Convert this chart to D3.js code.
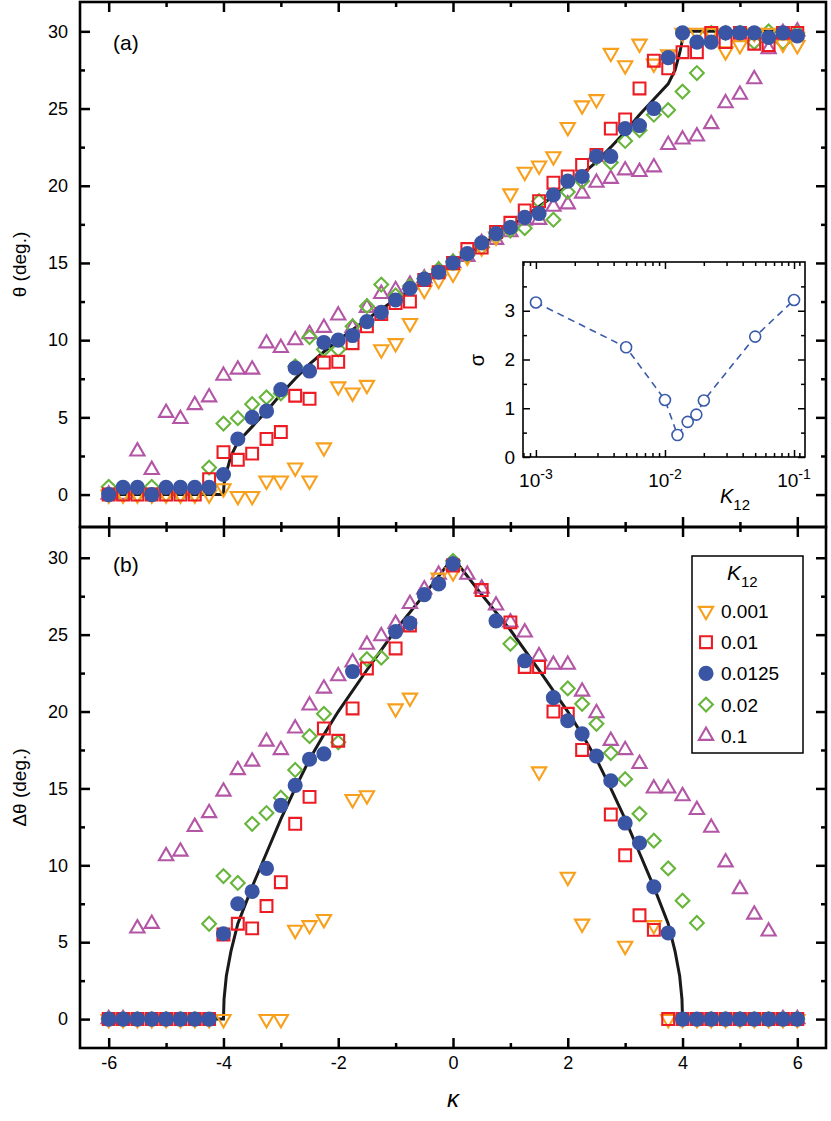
<!DOCTYPE html>
<html>
<head>
<meta charset="utf-8">
<script src="https://cdn.jsdelivr.net/npm/d3@7"></script>
<style>
body{margin:0;background:#fff}
text{font-family:"Liberation Sans",Arial,sans-serif;fill:#000}
</style>
</head>
<body>
<script>
// kappa grid shared by all series
const kappa = [-6,-5.75,-5.5,-5.25,-5,-4.75,-4.5,-4.25,
  -4,-3.75,-3.5,-3.25,-3,-2.75,-2.5,-2.25,
  -2,-1.75,-1.5,-1.25,-1,-0.75,-0.5,-0.25,
  0,0.25,0.5,0.75,1,1.25,1.5,1.75,
  2,2.25,2.5,2.75,3,3.25,3.5,3.75,
  4,4.25,4.5,4.75,5,5.25,5.5,5.75,
  6];

// panel (a): theta (deg.)
const thetaOrange = [0,0,0,0,0,0,0,0,
  0.4,-0.1,-0.1,0.9,0.9,1.75,0.9,3.05,
  7.0,6.6,7.1,9.4,9.8,11.1,13.25,13.9,
  14.3,15.4,16.0,16.7,19.5,20.9,21.3,21.9,
  23.8,25.2,25.6,28.6,27.8,29.2,27.9,28.5,
  29.9,29.9,29.9,28.7,29.1,29.9,29.9,29.2,
  29.1];
const thetaRed = [0,0,0,0,0,0,0,1.0,
  2.75,2.25,2.65,3.6,4.05,6.4,6.2,8.55,
  8.6,9.8,10.9,11.7,12.4,12.5,13.9,14.4,
  15.0,15.9,16.0,17.0,17.6,18.4,19.0,20.2,
  20.6,21.35,22.0,23.7,24.3,26.3,28.1,27.6,
  28.65,28.65,29.9,29.3,29.9,29.2,29.1,29.9,
  29.9];
const thetaBlue = [0,0.47,0.47,0,0.47,0.47,0.47,0.47,
  1.3,3.6,5.0,5.4,6.8,8.2,8.0,9.85,
  10.0,10.3,11.2,11.8,12.6,13.35,13.95,14.4,
  15.0,15.6,16.3,16.9,17.3,17.95,18.2,19.4,
  20.3,20.6,21.9,21.9,23.7,23.9,25.0,28.3,
  29.9,29.3,29.3,29.9,29.9,29.9,29.6,29.9,
  29.7];
const thetaGreen = [0.5,0,0,0.5,0,0,0,1.75,
  4.6,4.95,5.85,6.3,6.55,8.3,10.2,9.4,
  9.4,10.9,12.2,13.6,12.9,13.5,14.0,14.6,
  15.1,15.5,16.0,16.7,17.1,17.25,19.0,17.8,
  19.6,20.3,21.8,21.5,22.9,23.6,24.6,24.9,
  26.1,27.3,29.9,29.9,29.9,29.3,30.0,29.3,
  29.9];
const thetaMagenta = [0,0,2.8,1.6,5.3,4.9,5.8,6.3,
  7.7,8.1,8.1,9.8,9.5,10.0,10.4,10.8,
  11.6,10.8,12.1,13.0,13.25,13.6,14.0,14.5,
  15.0,15.4,16.3,16.5,17.0,17.75,17.8,18.65,
  18.8,19.5,20.2,20.45,21.0,20.9,21.2,22.65,
  23.0,23.2,24.0,25.35,25.9,26.9,28.85,29.9,
  30.0];

// panel (b): delta theta (deg.), null = no point
const dOrange = [0,0,0,0,0,0,0,0,
  0,null,null,0,0,5.8,6.1,6.5,
  null,14.3,14.55,null,20.2,20.9,null,28.7,
  29.05,null,null,null,null,null,16.1,null,
  9.25,6.2,null,null,4.76,null,6.1,0,
  0,0,0,0,0,0,0,0,
  0];
const dRed = [0,0,0,0,0,0,0,0,
  5.5,6.2,5.9,7.35,8.9,12.7,14.45,18.9,
  18.1,20.2,22.8,null,24.1,25.6,null,null,
  29.5,null,27.9,null,25.8,22.9,22.9,20.0,
  19.85,17.5,null,13.3,10.65,6.75,5.8,0,
  0,0,0,0,0,0,0,0,
  0];
const dBlue = [0,0,0,0,0,0,0,0,
  5.55,7.5,8.3,9.8,13.9,15.2,16.9,17.25,
  null,22.6,null,null,25.2,25.75,27.6,28.3,
  29.6,null,null,25.9,null,23.3,null,20.9,
  19.4,18.55,17.1,15.5,12.75,11.45,8.6,5.6,
  0,0,0,0,0,0,0,0,
  0];
const dGreen = [0,0,0,0,0,0,0,6.2,
  9.3,8.85,12.7,13.4,14.4,16.2,18.4,19.85,
  18.0,null,23.4,23.5,null,null,null,null,
  29.8,null,null,null,24.4,null,null,null,
  21.5,20.5,19.2,17.3,15.6,13.35,11.6,9.8,
  7.7,6.25,0,0,0,0,0,0,
  0];
const dMagenta = [0,0,5.9,6.2,10.6,10.9,12.5,13.4,
  14.8,16.2,16.75,18.05,17.5,18.9,20.4,21.5,
  22.3,23.2,24.35,24.9,25.7,27.0,27.95,28.9,
  29.5,28.9,28.0,26.9,25.8,25.15,23.6,23.05,
  23.05,21.3,19.9,18.1,17.5,16.6,15.0,15.0,
  14.5,13.6,12.45,10.2,8.45,6.8,5.7,0,
  0];

// theory curves
const curveK = [-6,-4,-3.99,-3.95,-3.87,-3.75,-3.5,-3.25,-3,-2.75,-2.5,-2.25,-2,-1.5,-1,-0.5,
  0,0.5,1,1.5,2,2.25,2.5,2.75,3,3.25,3.5,3.75,3.87,3.95,3.99,4,6];
const curveTheta = [0,0,0.7,1.4,2.5,3.4,4.4,5.4,6.5,7.5,8.45,9.25,10.0,11.35,12.65,13.8,
  15,16.2,17.35,18.65,20.0,20.75,21.55,22.5,23.5,24.6,25.6,26.6,27.5,28.6,29.3,30,30];
const curveDelta = [0,0,1.3,2.8,4.4,6.2,8.6,10.8,13.0,15.0,16.9,18.5,20.0,22.7,25.3,27.6,
  30,27.6,25.3,22.7,20.0,18.5,16.9,15.0,13.0,10.8,8.6,6.2,4.4,2.8,1.3,0,0];

// inset: sigma vs K12
const kInset = [0.001,0.005,0.01,0.0125,0.015,0.0175,0.02,0.05,0.1];
const sigma = [3.17,2.25,1.17,0.45,0.72,0.87,1.16,2.47,3.22];

const legendLabels = ['0.001','0.01','0.0125','0.02','0.1'];
const colors = ['#F8A01C','#EC1C24','#3A55A4','#67B53B','#B356A6'];
const shapes = ['down','square','circle','diamond','up'];
const panelA = [thetaOrange,thetaRed,thetaBlue,thetaGreen,thetaMagenta];
const panelB = [dOrange,dRed,dBlue,dGreen,dMagenta];
const drawOrder = [4,3,0,1,2];

const W = 831, H = 1121;
const leftX = 80, rightX = 826, topY = 2, midY = 527, bottomY = 1048;

const svg = d3.select('body').append('svg').attr('width',W).attr('height',H);

const x = d3.scaleLinear().domain([-6.5,6.5]).range([leftX,rightX]);
const yA = d3.scaleLinear().domain([-2.1,31.9]).range([midY,topY]);
const yB = d3.scaleLinear().domain([-1.88,32]).range([bottomY,midY]);

function symbolPath(shape){
  if(shape==='circle') return d3.symbol().type(d3.symbolCircle).size(180)();
  if(shape==='square') return d3.symbol().type(d3.symbolSquare).size(140)();
  if(shape==='diamond') return d3.symbol().type(d3.symbolSquare).size(95)();
  return d3.symbol().type(d3.symbolTriangle).size(88)();
}
function rot(shape){
  if(shape==='down') return ' rotate(180)';
  if(shape==='diamond') return ' rotate(45)';
  return '';
}
function drawMarker(g, px, py, s){
  const sh = shapes[s];
  g.append('path')
   .attr('d', symbolPath(sh))
   .attr('transform', `translate(${px},${py})${rot(sh)}`)
   .attr('fill', sh==='circle' ? colors[s] : 'none')
   .attr('stroke', sh==='circle' ? 'none' : colors[s])
   .attr('stroke-width', 2.1);
}

// frame + ticks for one panel
function frame(y, y0, y1, showX){
  const g = svg.append('g');
  const majX = [-6,-4,-2,0,2,4,6], minX = [-5,-3,-1,1,3,5];
  const majY = [0,5,10,15,20,25,30], minY = [2.5,7.5,12.5,17.5,22.5,27.5];
  const ax = [
    [d3.axisBottom(x).tickValues(majX).tickSize(-10).tickPadding(8).tickFormat(showX ? d=>String(d) : ''), y1],
    [d3.axisBottom(x).tickValues(minX).tickSize(-5).tickFormat(''), y1],
    [d3.axisTop(x).tickValues(majX).tickSize(-10).tickFormat(''), y0],
    [d3.axisTop(x).tickValues(minX).tickSize(-5).tickFormat(''), y0]
  ];
  ax.forEach(([a,ty]) => {
    const gg = g.append('g').attr('transform',`translate(0,${ty})`).call(a);
    gg.select('.domain').remove();
  });
  const ay = [
    [d3.axisLeft(y).tickValues(majY).tickSize(-10).tickPadding(12).tickFormat(d=>String(d)), leftX],
    [d3.axisLeft(y).tickValues(minY).tickSize(-5).tickFormat(''), leftX],
    [d3.axisRight(y).tickValues(majY).tickSize(-10).tickFormat(''), rightX],
    [d3.axisRight(y).tickValues(minY).tickSize(-5).tickFormat(''), rightX]
  ];
  ay.forEach(([a,tx]) => {
    const gg = g.append('g').attr('transform',`translate(${tx},0)`).call(a);
    gg.select('.domain').remove();
  });
  g.selectAll('.tick line').attr('stroke','#000').attr('stroke-width',2.5);
  g.selectAll('.tick text').attr('font-size',18).attr('font-family','"Liberation Sans",Arial,sans-serif');
  g.append('rect').attr('x',leftX).attr('y',y0).attr('width',rightX-leftX).attr('height',y1-y0)
   .attr('fill','none').attr('stroke','#000').attr('stroke-width',2.6);
}

function panel(y, data, curve){
  const line = d3.line().x((d,i)=>x(curveK[i])).y(d=>y(d));
  svg.append('path').attr('d', line(curve)).attr('fill','none')
     .attr('stroke','#1a1a1a').attr('stroke-width',3);
  drawOrder.forEach(s => {
    const g = svg.append('g');
    data[s].forEach((v,i) => { if(v!==null) drawMarker(g, x(kappa[i]), y(v), s); });
  });
}

panel(yA, panelA, curveTheta);
panel(yB, panelB, curveDelta);
frame(yA, topY, midY, false);
frame(yB, midY, bottomY, true);

// panel labels
svg.append('text').attr('x',113).attr('y',50).attr('font-size',21).text('(a)');
svg.append('text').attr('x',113).attr('y',572).attr('font-size',21).text('(b)');

// axis titles
svg.append('text').attr('transform',`translate(26,${(topY+midY)/2}) rotate(-90)`)
   .attr('text-anchor','middle').attr('font-size',19)
   .attr('font-family','"Liberation Sans Narrow","Liberation Sans",sans-serif')
   .text('θ (deg.)');
svg.append('text').attr('transform',`translate(26,${(midY+bottomY)/2}) rotate(-90)`)
   .attr('text-anchor','middle').attr('font-size',19)
   .attr('font-family','"Liberation Sans Narrow","Liberation Sans",sans-serif')
   .text('Δθ (deg.)');
svg.append('text').attr('x',(leftX+rightX)/2).attr('y',1107).attr('text-anchor','middle')
   .attr('font-size',24).attr('font-style','italic')
   .attr('font-family','"DejaVu Serif","Liberation Serif",serif').text('κ');

// inset
const ix0 = 523, ix1 = 805, iy0 = 262, iy1 = 457;
const xi = d3.scaleLog().domain([Math.pow(10,-3.1), Math.pow(10,-0.915)]).range([ix0,ix1]);
const yi = d3.scaleLinear().domain([0,4]).range([iy1,iy0]);
const inset = svg.append('g');
inset.append('rect').attr('x',ix0).attr('y',iy0).attr('width',ix1-ix0).attr('height',iy1-iy0)
     .attr('fill','#fff');
const decades = [0.001,0.01,0.1];
const minorLog = [];
[0.001,0.01].forEach(d => { for(let m=2;m<=9;m++) minorLog.push(d*m); });
minorLog.push(0.0008, 0.0009, 0.11);
const minorInsetX = minorLog.filter(v => v>xi.domain()[0] && v<xi.domain()[1]);
[
  [d3.axisBottom(xi).tickValues(decades).tickSize(-7).tickFormat(''), iy1, 'x'],
  [d3.axisBottom(xi).tickValues(minorInsetX).tickSize(-4).tickFormat(''), iy1, 'x'],
  [d3.axisTop(xi).tickValues(decades).tickSize(-7).tickFormat(''), iy0, 'x'],
  [d3.axisTop(xi).tickValues(minorInsetX).tickSize(-4).tickFormat(''), iy0, 'x'],
  [d3.axisLeft(yi).tickValues([0,1,2,3]).tickSize(-7).tickPadding(8).tickFormat(d=>String(d)), ix0, 'y'],
  [d3.axisLeft(yi).tickValues([0.5,1.5,2.5,3.5]).tickSize(-4).tickFormat(''), ix0, 'y'],
  [d3.axisRight(yi).tickValues([0,1,2,3]).tickSize(-7).tickFormat(''), ix1, 'y'],
  [d3.axisRight(yi).tickValues([0.5,1.5,2.5,3.5]).tickSize(-4).tickFormat(''), ix1, 'y']
].forEach(([a,t,k]) => {
  const gg = inset.append('g').attr('transform', k==='x' ? `translate(0,${t})` : `translate(${t},0)`).call(a);
  gg.select('.domain').remove();
});
inset.selectAll('.tick line').attr('stroke','#000').attr('stroke-width',1.5);
inset.selectAll('.tick text').attr('font-size',19).attr('font-family','"Liberation Sans",Arial,sans-serif');
inset.append('rect').attr('x',ix0).attr('y',iy0).attr('width',ix1-ix0).attr('height',iy1-iy0)
     .attr('fill','none').attr('stroke','#000').attr('stroke-width',1.6);
// decade labels 10^n
const expo = ['-3','-2','-1'];
decades.forEach((d,i) => {
  const t = inset.append('text').attr('x',xi(d)).attr('y',487).attr('text-anchor','middle').attr('font-size',19);
  t.append('tspan').text('10');
  t.append('tspan').attr('dy',-8).attr('font-size',14).text(expo[i]);
});
const kl = inset.append('text').attr('x',720).attr('y',503).attr('font-size',20);
kl.append('tspan').attr('font-style','italic').text('K');
kl.append('tspan').attr('dy',7).attr('font-size',15).text('12');
inset.append('text').attr('transform','translate(484,360) rotate(-90)').attr('text-anchor','middle')
     .attr('font-size',20).text('σ');
const blueLine = '#3A5BAA';
inset.append('path')
  .attr('d', d3.line().x((d,i)=>xi(kInset[i])).y(d=>yi(d))(sigma))
  .attr('fill','none').attr('stroke',blueLine).attr('stroke-width',1.6).attr('stroke-dasharray','7,5');
inset.selectAll('circle.pt').data(sigma).join('circle').attr('class','pt')
  .attr('cx',(d,i)=>xi(kInset[i])).attr('cy',d=>yi(d)).attr('r',5.5)
  .attr('fill','#fff').attr('stroke',blueLine).attr('stroke-width',1.6);

// legend
const lg = svg.append('g');
lg.append('rect').attr('x',692).attr('y',556).attr('width',111).attr('height',197)
  .attr('fill','#fff').attr('stroke','#000').attr('stroke-width',1.5);
const lt = lg.append('text').attr('x',727).attr('y',580).attr('font-size',21);
lt.append('tspan').attr('font-style','italic').text('K');
lt.append('tspan').attr('dy',7).attr('font-size',15).text('12');
legendLabels.forEach((lab,s) => {
  const ly = 611 + s*31.2;
  drawMarker(lg, 706, ly, s);
  lg.append('text').attr('x',721).attr('y',ly+7).attr('font-size',19).text(lab);
});
</script>
</body>
</html>
